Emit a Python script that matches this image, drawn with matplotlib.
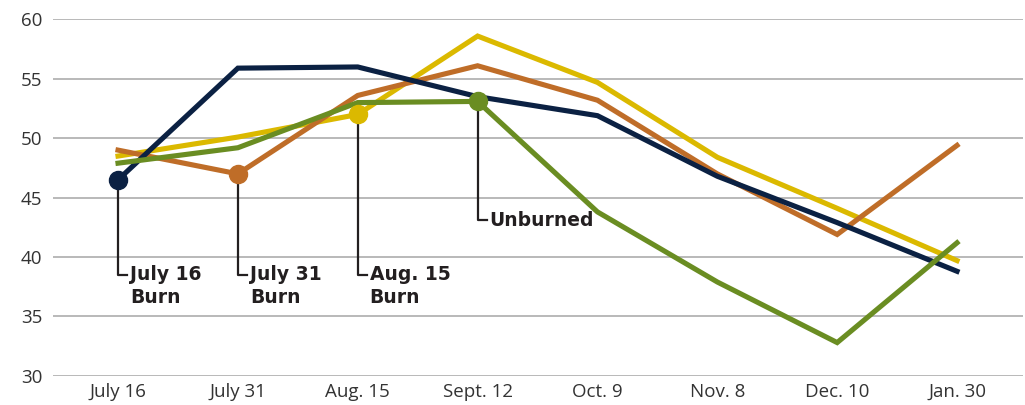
import matplotlib
matplotlib.use('Agg')
import matplotlib.pyplot as plt

matplotlib.rcParams['font.family'] = ['Open Sans', 'DejaVu Sans']

dates = ['July 16', 'July 31', 'Aug. 15', 'Sept. 12', 'Oct. 9', 'Nov. 8', 'Dec. 10', 'Jan. 30']
july16 = [46.5, 55.9, 56.0, 53.5, 51.9, 46.8, 42.9, 38.8]
july31 = [49.0, 47.0, 53.6, 56.1, 53.2, 47.0, 41.9, 49.4]
aug15 = [48.5, 50.1, 52.0, 58.6, 54.7, 48.4, 44.1, 39.7]
unburned = [47.9, 49.2, 53.0, 53.1, 43.8, 37.9, 32.8, 41.2]

# name, values, colour, index of the marked point, label
series = [
    ('aug15', aug15, '#dbb900', 2, 'Aug. 15\nBurn'),
    ('july31', july31, '#bf6d28', 1, 'July 31\nBurn'),
    ('july16', july16, '#0b2143', 0, 'July 16\nBurn'),
    ('unburned', unburned, '#6a8d22', 3, 'Unburned'),
]
label_y = [38.5, 38.5, 38.5, 43.1]

fig = plt.figure(figsize=(10.25, 4.05), dpi=100)
ax = fig.add_axes([0.052, 0.072, 0.946, 0.88])
x = list(range(len(dates)))

for i, (name, vals, col, k, lab) in enumerate(series):
    ax.plot(x, vals, color=col, lw=3.7, solid_joinstyle='miter', zorder=3)
    ax.plot(k, vals[k], 'o', color=col, ms=13, zorder=4)
    ly = label_y[i]
    ax.plot([k, k, k + 0.075], [vals[k], ly, ly], color='#231f20', lw=1.6, zorder=2)
    if '\n' in lab:
        ax.text(k + 0.1, ly + 0.85, lab, fontsize=13.5, fontweight='bold', color='#231f20',
                va='top', ha='left', linespacing=1.25, family='DejaVu Sans')
    else:
        ax.text(k + 0.1, ly, lab, fontsize=13.5, fontweight='bold', color='#231f20',
                va='center', ha='left', family='DejaVu Sans')

ax.set_ylim(30, 60)
ax.set_xlim(-0.54, 7.55)
ax.set_yticks([30, 35, 40, 45, 50, 55, 60])
ax.set_xticks(x)
ax.set_xticklabels(dates)
ax.yaxis.grid(True, color='#b3b3b3', lw=1.3)
ax.set_axisbelow(True)
for s in ax.spines.values():
    s.set_visible(False)
ax.tick_params(length=0, labelsize=13.5, colors='#333333')
ax.tick_params(axis='y', pad=8)
ax.tick_params(axis='x', pad=5)

fig.savefig('out.png', dpi=100)
